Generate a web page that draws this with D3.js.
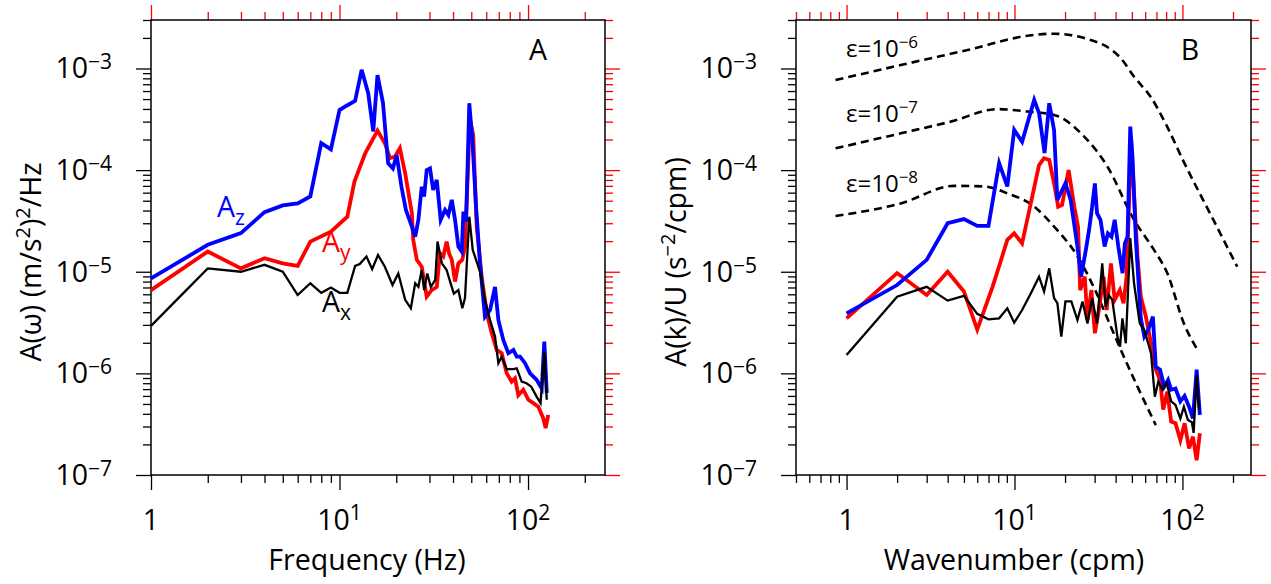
<!DOCTYPE html>
<meta charset="utf-8">
<script src="https://d3js.org/d3.v7.min.js"></script>
<style>
    body { margin: 0; background: #fff; }
    svg text { font-family: "Open Sans", sans-serif; }
</style>
<svg id="chart" width="1271" height="584"></svg>
<script>
    // ---- data: [frequency or wavenumber, spectral value] ----
    // panel A, acceleration spectra vs frequency (Hz)
    const freqAz = [[1,8.6e-6],[2,1.84e-5],[3,2.4e-5],[4,3.86e-5],[5,4.5e-5],[6,4.7e-5],[7,5.5e-5],[8,1.84e-4],[9,1.6e-4],[10,3.9e-4],[10.9,4.3e-4],[12.1,4.8e-4],[13.1,9.7e-4],[14.2,5.7e-4],[15.1,2.4e-4],[15.9,8.6e-4],[17,4.6e-4],[18.1,1.17e-4],[19.2,1.04e-4],[20.1,1.41e-4],[21.3,6.9e-5],[22.5,4.06e-5],[24.2,2.78e-5],[25.2,2.21e-5],[26.2,3.24e-5],[27.3,6.88e-5],[28.1,5.48e-5],[29,1.0e-4],[30.2,1.04e-4],[31.4,6.38e-5],[32.8,8.0e-5],[34.4,3.24e-5],[36.3,4.06e-5],[37.8,3.62e-5],[39.4,5.09e-5],[41,3.24e-5],[42.7,1.77e-5],[44.5,1.58e-5],[45.4,3.9e-5],[46.9,3.11e-5],[48.8,4.55e-4],[50.9,1.7e-4],[53,4.37e-5],[55.6,1.22e-5],[59.1,3.61e-6],[62.9,4.2e-6],[66.8,7.1e-6],[69.6,3.35e-6],[73.9,2.13e-6],[78.6,1.58e-6],[83.6,1.7e-6],[87.1,1.46e-6],[90.7,1.46e-6],[96.4,1.26e-6],[102.5,1.0e-6],[111.2,8.6e-7],[118.2,7.1e-7],[122,2.05e-6],[125.7,6.4e-7]];
    const freqAy = [[1,6.6e-6],[2,1.58e-5],[3,1.08e-5],[4,1.36e-5],[5,1.21e-5],[6,1.14e-5],[7,1.98e-5],[9,2.48e-5],[11,3.48e-5],[12,7.7e-5],[13.7,1.47e-4],[15.9,2.45e-4],[17.4,1.84e-4],[18.5,1.31e-4],[19.7,1.36e-4],[20.9,1.64e-4],[22.3,9.3e-5],[24.2,3.77e-5],[24.6,2.06e-5],[25.7,1.31e-5],[27.3,1.12e-5],[29,5.69e-6],[30.8,6.6e-6],[32.8,7.1e-6],[34.1,1.52e-5],[35.5,1.41e-5],[37,1.98e-5],[38.1,1.52e-5],[39.4,1.31e-5],[41,8.0e-6],[42.7,1.21e-5],[44.8,1.31e-5],[46.3,1.77e-5],[49.2,3.2e-4],[51.2,2.2e-4],[53.4,2.78e-5],[56.8,8.95e-6],[60.4,3.9e-6],[64.2,2.48e-6],[68.2,1.7e-6],[72.5,1.58e-6],[77.1,1.0e-6],[81.9,8.3e-7],[85.3,8.95e-7],[88.8,6.1e-7],[94.4,6.9e-7],[100.4,5.5e-7],[106.7,5.1e-7],[113.4,4.7e-7],[120.5,3.6e-7],[124,2.9e-7],[128,3.9e-7]];
    const freqAx = [[1,2.93e-6],[2,1.08e-5],[3,1.0e-5],[4,1.17e-5],[5,1.0e-5],[6,5.9e-6],[7,7.7e-6],[8,6.2e-6],[9,7.0e-6],[10,6.2e-6],[11,6.2e-6],[12.1,1.14e-5],[12.8,1.19e-5],[13.9,1.41e-5],[14.9,1.06e-5],[16,1.46e-5],[17.4,1.12e-5],[19.1,7.4e-6],[20.5,9.6e-6],[22.3,5.3e-6],[23.9,4.37e-6],[25.2,7.7e-6],[26.2,7.1e-6],[27.3,1.04e-5],[28.1,6.6e-6],[29.2,9.6e-6],[30.5,7.1e-6],[32.2,8.3e-6],[33.1,1.98e-5],[34.9,1.21e-5],[37,1.04e-5],[38.6,8.0e-6],[40.4,6.1e-6],[42.7,6.6e-6],[44.8,4.37e-6],[46.3,5.5e-6],[48.8,3.48e-5],[50.9,1.64e-5],[55.6,1.0e-5],[59.1,5.3e-6],[62.9,3.35e-6],[66.8,2.3e-6],[69.6,1.26e-6],[72.5,1.46e-6],[77.1,1.1e-6],[83.6,1.1e-6],[87.1,1.12e-6],[92.5,8.3e-7],[98.2,8.0e-7],[104,7.4e-7],[111,5.9e-7],[116.5,5.1e-7],[122,1.64e-6],[125.7,5.5e-7]];

    // panel B, spectra vs wavenumber (cpm)
    const waveAz = [[1,3.9e-6],[2,7.4e-6],[3,1.31e-5],[4,3.0e-5],[5,3.3e-5],[6,2.83e-5],[7,2.83e-5],[8.1,1.17e-4],[9.06,6.9e-5],[9.96,2.49e-4],[11.1,1.9e-4],[13.1,4.9e-4],[14,3.63e-4],[15.1,1.47e-4],[16.1,4.55e-4],[17.2,2.49e-4],[18,5.09e-5],[20.1,7.4e-5],[21.6,5.09e-5],[23.7,1.77e-5],[24.9,8.95e-6],[26.6,1.64e-5],[27.8,2.58e-5],[29,4.37e-5],[30.1,7.4e-5],[31,3.77e-5],[32.5,3.24e-5],[34.4,1.77e-5],[36,2.39e-5],[37.8,2.21e-5],[39.5,3.24e-5],[41.5,1.77e-5],[44,9.7e-6],[45.4,1.9e-5],[47.1,2.21e-5],[48.9,2.68e-4],[50.4,1.36e-4],[52.8,2.06e-5],[56.5,3.5e-6],[59.3,2.3e-6],[62.6,2.67e-6],[66.7,3.61e-6],[69.4,1.16e-6],[73.6,1.09e-6],[77.9,7.4e-7],[82.1,8.6e-7],[85.7,6.9e-7],[90.9,7.1e-7],[97.2,5.3e-7],[103,6.0e-7],[109.5,4.7e-7],[115.5,3.6e-7],[121.5,1.09e-6],[127,3.9e-7]];
    const waveAy = [[1,3.48e-6],[2,9.7e-6],[3,5.9e-6],[4,1.0e-5],[5,6.4e-6],[6,2.7e-6],[7.4,7.1e-6],[8.2,1.21e-5],[9.06,2.06e-5],[9.96,2.39e-5],[11.1,1.9e-5],[12.5,4.7e-5],[14,1.12e-4],[15,1.31e-4],[16.1,1.26e-4],[17.2,7.4e-5],[18.2,4.37e-5],[19.2,4.55e-5],[21,1.0e-4],[22.7,4.37e-5],[23.9,2.78e-5],[24.6,6.6e-6],[26.2,8.95e-6],[27.2,3.35e-6],[28.7,6.6e-6],[30.1,2.48e-6],[31.8,4.2e-6],[33.9,8.95e-6],[35.4,4.2e-6],[37.5,1.21e-5],[39.5,5.3e-6],[42.4,6.6e-6],[44.6,4.9e-6],[46.5,8.95e-6],[48,4.37e-5],[49.5,1.98e-4],[52,4.37e-5],[54,1.41e-5],[56.5,5.7e-6],[60.6,3.6e-6],[65,1.98e-6],[69.4,1.09e-6],[73.6,8.6e-7],[76.8,4.4e-7],[81.2,6.6e-7],[85.7,3.35e-7],[90.9,3.23e-7],[97.2,2.2e-7],[103,3.23e-7],[109.5,1.83e-7],[115.5,2.38e-7],[121.5,1.4e-7],[127,2.57e-7]];
    const waveAx = [[1,1.52e-6],[2,5.69e-6],[3,7.1e-6],[4,5.2e-6],[5,5.8e-6],[6,3.85e-6],[7,3.4e-6],[8.1,3.48e-6],[9.06,4.37e-6],[9.96,3.15e-6],[11.1,4.2e-6],[12.5,6.1e-6],[14,8.95e-6],[15,6.4e-6],[16.1,1.08e-5],[17.2,5.5e-6],[18,4.9e-6],[19,2.3e-6],[20.1,5.1e-6],[21.8,5.1e-6],[23.7,3.35e-6],[25.4,5.1e-6],[27.2,3.1e-6],[29,5.5e-6],[31,3.1e-6],[33.3,1.21e-5],[34.9,4.5e-6],[36.4,5.9e-6],[38.2,5.3e-6],[41,2.3e-6],[42.5,1.83e-6],[43.9,3.48e-6],[46,1.98e-6],[48.9,2.14e-5],[51.5,7.7e-6],[55.7,3.1e-6],[59.3,2.67e-6],[65,1.58e-6],[68.5,5.9e-7],[71.8,8.3e-7],[76,6.9e-7],[80.6,8.0e-7],[85.7,5.3e-7],[90.9,4.9e-7],[97.2,3.6e-7],[102,4.7e-7],[107.8,3.48e-7],[113.8,3.3e-7],[116.6,2.6e-7],[121.5,9.6e-7],[125.5,4.4e-7]];

    // model spectra for three dissipation rates
    const eps6 = [[0.86,7.7e-4],[2.1,1.08e-3],[5.25,1.52e-3],[13,2.14e-3],[17,2.2e-3],[26,1.99e-3],[43,1.26e-3],[51.5,8.3e-4],[65,5.2e-4],[80,2.8e-4],[102,1.2e-4],[154,3.16e-5],[212,1.12e-5]];
    const eps7 = [[0.86,1.64e-4],[2.1,2.3e-4],[4.17,3.0e-4],[7.93,3.98e-4],[11.95,3.77e-4],[17.2,3.49e-4],[26,2.14e-4],[35.8,1.08e-4],[51.5,3.24e-5],[67.7,1.64e-5],[81.2,9.7e-6],[102,3.1e-6],[123,1.7e-6]];
    const eps8 = [[0.86,3.54e-5],[2.1,4.7e-5],[4.37,7.0e-5],[6.6,6.9e-5],[9.1,5.9e-5],[13.1,4.38e-5],[17.2,2.78e-5],[23.8,1.41e-5],[29.7,7.0e-6],[37.5,2.88e-6],[43,1.7e-6],[54,7.4e-7],[69.4,3.1e-7]];
    const epsExp = ["6", "7", "8"];

    const yMajorExp = [-7, -6, -5, -4, -3];
    const xMajorExp = [0, 1, 2];

    const svg = d3.select("#chart");
    const y = d3.scaleLog().domain([1e-7, 3e-3]).range([475, 20]);
    const xA = d3.scaleLog().domain([1, 256]).range([151, 605]);
    const xB = d3.scaleLog().domain([0.5, 256]).range([796, 1251]);

    function minorTicks(scale) {
        const [a, b] = scale.domain();
        const out = [];
        for (let e = Math.floor(Math.log10(a)); e <= Math.ceil(Math.log10(b)); e++)
            for (let m = 2; m <= 9; m++) {
                const v = m * Math.pow(10, e);
                if (v >= a * 0.999 && v <= b * 1.001) out.push(v);
            }
        return out;
    }
    function majorTicks(scale) {
        const [a, b] = scale.domain();
        return d3.range(Math.ceil(Math.log10(a) - 1e-9), Math.floor(Math.log10(b) + 1e-9) + 1).map(e => Math.pow(10, e));
    }

    function tickSet(axisFn, scale, translate, color) {
        [[majorTicks(scale), 15], [minorTicks(scale), 8]].forEach(([vals, size]) => {
            svg.append("g")
                .attr("transform", translate)
                .attr("color", color)
                .call(axisFn(scale).tickValues(vals).tickSize(size).tickSizeOuter(0).tickFormat(""))
                .call(g => g.select(".domain").remove())
                .selectAll("line").attr("stroke-width", 1.3);
        });
    }

    // text with a raised exponent
    function powText(sel, base, exp, baseSize, expSize, rise) {
        sel.append("tspan").text(base).style("font-size", baseSize + "px");
        sel.append("tspan").text(exp).attr("dy", -rise).style("font-size", expSize + "px");
    }

    function drawPanel(x, yLabelX, title, titleX, yTitle, yTitleX, letter, letterX) {
        const [x0, x1] = x.range();
        const [yb, yt] = y.range();

        tickSet(d3.axisBottom, x, `translate(0,${yb})`, "black");
        tickSet(d3.axisTop, x, `translate(0,${yt})`, "red");
        tickSet(d3.axisLeft, y, `translate(${x0},0)`, "black");
        tickSet(d3.axisRight, y, `translate(${x1},0)`, "red");

        svg.append("rect")
            .attr("x", x0).attr("y", yt)
            .attr("width", x1 - x0).attr("height", yb - yt)
            .attr("fill", "none").attr("stroke", "black").attr("stroke-width", 1.5);

        // x tick labels
        xMajorExp.forEach(e => {
            const t = svg.append("text")
                .attr("x", x(Math.pow(10, e))).attr("y", 530)
                .attr("text-anchor", "middle");
            if (e === 0) t.text("1").style("font-size", "28.5px");
            else powText(t, "10", String(e), 28.5, 21, 10);
        });

        // y tick labels
        yMajorExp.forEach(e => {
            const t = svg.append("text")
                .attr("x", yLabelX).attr("y", y(Math.pow(10, e)) + 10)
                .attr("text-anchor", "end");
            powText(t, "10", "\u2212" + Math.abs(e), 28.5, 21, 9);
        });

        svg.append("text")
            .attr("x", titleX).attr("y", 570)
            .attr("text-anchor", "middle")
            .style("font-size", "28.5px")
            .text(title);

        const yt2 = svg.append("text")
            .attr("transform", `translate(${yTitleX},262) rotate(-90)`)
            .attr("text-anchor", "middle")
            .style("font-size", "28.5px");
        yTitle.forEach(p => {
            yt2.append("tspan")
                .attr("dy", p.dy || 0)
                .style("font-size", p.sup ? "20px" : "28.5px")
                .text(p.t);
        });

        svg.append("text")
            .attr("x", letterX).attr("y", 60)
            .attr("text-anchor", "middle")
            .style("font-size", "28.5px")
            .text(letter);
    }

    drawPanel(xA, 112, "Frequency (Hz)", 367, [
        { t: "A(\u03c9) (m/s" }, { t: "2", sup: true, dy: -11 }, { t: ")", dy: 11 },
        { t: "2", sup: true, dy: -11 }, { t: "/Hz", dy: 11 }
    ], 41, "A", 538);

    drawPanel(xB, 757, "Wavenumber (cpm)", 1014, [
        { t: "A(k)/U (s" }, { t: "\u22122", sup: true, dy: -11 }, { t: "/cpm)", dy: 11 }
    ], 686, "B", 1190);

    // ---- curves ----
    function drawLine(x, data, color, width, dash, curve) {
        const line = d3.line().x(d => x(d[0])).y(d => y(d[1]));
        if (curve) line.curve(curve);
        svg.append("path")
            .datum(data)
            .attr("d", line)
            .attr("fill", "none")
            .attr("stroke", color)
            .attr("stroke-width", width)
            .attr("stroke-dasharray", dash || null);
    }

    drawLine(xA, freqAy, "#ff0000", 3.8);
    drawLine(xA, freqAz, "#0000ff", 3.8);
    drawLine(xA, freqAx, "black", 2.3);

    [eps6, eps7, eps8].forEach(d => drawLine(xB, d, "black", 2.6, "8,5", d3.curveMonotoneX));
    drawLine(xB, waveAy, "#ff0000", 3.8);
    drawLine(xB, waveAz, "#0000ff", 3.8);
    drawLine(xB, waveAx, "black", 2.3);

    // curve labels
    const compLabels = [
        { c: "z", color: "#0000ff", x: 217, y: 217 },
        { c: "y", color: "#ff0000", x: 322, y: 252 },
        { c: "x", color: "black", x: 322, y: 312 }
    ];
    compLabels.forEach(l => {
        const t = svg.append("text").attr("x", l.x).attr("y", l.y).attr("fill", l.color);
        t.append("tspan").text("A").style("font-size", "28.5px");
        t.append("tspan").text(l.c).attr("dy", 8).style("font-size", "21px");
    });

    const epsY = [57, 122, 192];
    epsExp.forEach((e, i) => {
        const t = svg.append("text").attr("x", 846).attr("y", epsY[i]);
        powText(t, "\u03b5=10", "\u2212" + e, 24, 17, 9);
    });
</script>
